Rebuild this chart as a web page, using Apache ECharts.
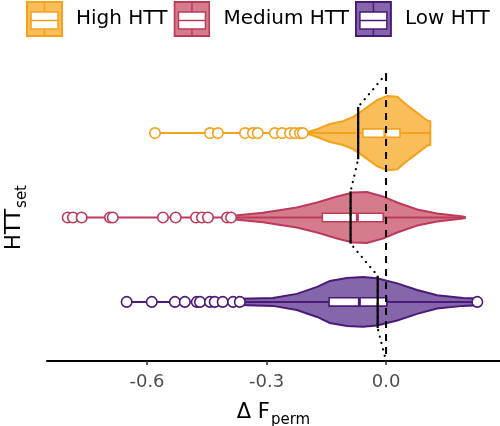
<!DOCTYPE html>
<html><head><meta charset="utf-8">
<script src="https://cdn.jsdelivr.net/npm/echarts@6/dist/echarts.min.js"></script>
<style>html,body{margin:0;padding:0;background:#fff}#c{width:500px;height:426px}</style>
</head><body><div id="c"></div>
<script>
// ---- data ----
const groups = ['High HTT', 'Medium HTT', 'Low HTT'];
const groupY = [3, 2, 1];
const fillColors = ['#F9BD59', '#D47C8C', '#8666AA'];
const lineColors = ['#F4A11C', '#BE3A5B', '#4A1A78'];
const xTicks = [-0.6, -0.3, 0.0];

const highOutliers = [-0.580, -0.442, -0.422, -0.354, -0.334, -0.322, -0.279, -0.261, -0.241, -0.229, -0.216, -0.209];
const mediumOutliers = [-0.799, -0.786, -0.764, -0.693, -0.686, -0.560, -0.528, -0.477, -0.462, -0.447, -0.399, -0.389];
const lowOutliers = [-0.651, -0.588, -0.530, -0.505, -0.475, -0.467, -0.442, -0.430, -0.410, -0.384, -0.367, 0.229];

// violin profiles: x value and half-width (in y-axis units)
const highViolinX = [-0.205, -0.191, -0.173, -0.141, -0.108, -0.083, -0.058, -0.023, 0.003, 0.028, 0.053, 0.078, 0.103, 0.111];
const highViolinW = [0.008, 0.018, 0.047, 0.107, 0.142, 0.190, 0.270, 0.390, 0.440, 0.430, 0.330, 0.240, 0.150, 0.140];
const mediumViolinX = [-0.389, -0.379, -0.309, -0.224, -0.173, -0.123, -0.083, -0.048, -0.008, 0.028, 0.078, 0.128, 0.193, 0.198];
const mediumViolinW = [0.015, 0.024, 0.056, 0.118, 0.178, 0.249, 0.296, 0.302, 0.249, 0.178, 0.095, 0.047, 0.012, 0.005];
const lowViolinX = [-0.367, -0.284, -0.224, -0.173, -0.141, -0.098, -0.058, -0.023, 0.028, 0.078, 0.128, 0.193, 0.229];
const lowViolinW = [0.036, 0.047, 0.095, 0.178, 0.249, 0.284, 0.295, 0.280, 0.220, 0.142, 0.079, 0.047, 0.041];

const boxQ1 = [-0.058, -0.160, -0.143];
const boxMedian = [-0.003, -0.072, -0.067];
const boxQ3 = [0.035, -0.007, 0.002];
const means = [-0.070, -0.089, -0.021];
const dataMin = [-0.580, -0.799, -0.651];
const dataMax = [0.111, 0.198, 0.229];

const outliers = [highOutliers, mediumOutliers, lowOutliers];
const violinX = [highViolinX, mediumViolinX, lowViolinX];
const violinW = [highViolinW, mediumViolinW, lowViolinW];

// ---- styling constants ----
const FONT = 'DejaVu Sans';
const BOX_HALF = 0.05;
const MEAN_HALF = 0.31;
const Y_MIN = 0.3, Y_MAX = 3.7;

function legendIcon(fill, stroke) {
  const svg = "<svg xmlns='http://www.w3.org/2000/svg' width='37' height='36' viewBox='0 0 37 36'>" +
    "<rect x='1' y='1' width='35' height='34' fill='" + fill + "' stroke='" + stroke + "' stroke-width='2'/>" +
    "<line x1='18.5' y1='1' x2='18.5' y2='11' stroke='" + stroke + "' stroke-width='1.5'/>" +
    "<line x1='18.5' y1='28' x2='18.5' y2='35' stroke='" + stroke + "' stroke-width='1.5'/>" +
    "<rect x='5' y='11' width='27' height='17' fill='white' stroke='" + stroke + "' stroke-width='1.5'/>" +
    "<line x1='5' y1='19.5' x2='32' y2='19.5' stroke='" + stroke + "' stroke-width='1.5'/>" +
    "</svg>";
  return 'image://data:image/svg+xml;charset=utf-8,' + encodeURIComponent(svg);
}

const series = [];

// dotted line linking mean segments
const dotted = [[0, Y_MAX]];
for (let i = 0; i < 3; i++) {
  dotted.push([means[i], groupY[i] + MEAN_HALF]);
  dotted.push([means[i], groupY[i] - MEAN_HALF]);
}
dotted.push([0, Y_MIN]);
series.push({
  type: 'line', data: dotted, symbol: 'none', silent: true,
  lineStyle: { color: '#000', width: 2.2, type: [0.1, 6.5], cap: 'round' }
});

// violins
for (let i = 0; i < 3; i++) {
  const xs = violinX[i], ws = violinW[i], yc = groupY[i];
  series.push({
    name: groups[i], type: 'custom', silent: true,
    data: xs.map((x, k) => [x, ws[k]]),
    renderItem: function (params, api) {
      if (params.dataIndex !== 0) return null;
      const pts = [];
      for (let k = 0; k < xs.length; k++) pts.push(api.coord([xs[k], yc + ws[k]]));
      for (let k = xs.length - 1; k >= 0; k--) pts.push(api.coord([xs[k], yc - ws[k]]));
      const a = api.coord([dataMin[i], yc]), b = api.coord([dataMax[i], yc]);
      return {
        type: 'group', children: [
          { type: 'polygon', shape: { points: pts },
            style: { fill: fillColors[i], stroke: lineColors[i], lineWidth: 2 } },
          { type: 'line', shape: { x1: a[0], y1: a[1], x2: b[0], y2: b[1] },
            style: { stroke: lineColors[i], lineWidth: 2 } }
        ]
      };
    }
  });
}

// boxes
for (let i = 0; i < 3; i++) {
  series.push({
    name: groups[i], type: 'custom', silent: true,
    data: [[boxQ1[i], boxMedian[i], boxQ3[i], groupY[i]]],
    renderItem: function (params, api) {
      const q1 = api.value(0), md = api.value(1), q3 = api.value(2), y = api.value(3);
      const p1 = api.coord([q1, y + BOX_HALF]);
      const p2 = api.coord([q3, y - BOX_HALF]);
      const m1 = api.coord([md, y + BOX_HALF]);
      const m2 = api.coord([md, y - BOX_HALF]);
      return {
        type: 'group', children: [
          { type: 'rect', shape: { x: p1[0], y: p1[1], width: p2[0] - p1[0], height: p2[1] - p1[1] },
            style: { fill: '#fff', stroke: lineColors[i], lineWidth: 1.6 } },
          { type: 'line', shape: { x1: m1[0], y1: m1[1], x2: m2[0], y2: m2[1] },
            style: { stroke: lineColors[i], lineWidth: 3 } }
        ]
      };
    }
  });
}

// outliers
for (let i = 0; i < 3; i++) {
  series.push({
    name: groups[i], type: 'scatter', silent: true,
    data: outliers[i].map(v => [v, groupY[i]]),
    symbol: 'circle', symbolSize: 10.5,
    itemStyle: { color: '#fff', borderColor: lineColors[i], borderWidth: 1.6, opacity: 1 }
  });
}

// mean segments
series.push({
  type: 'custom', silent: true,
  data: means.map((m, i) => [m, groupY[i]]),
  renderItem: function (params, api) {
    const x = api.value(0), y = api.value(1);
    const a = api.coord([x, y + MEAN_HALF]), b = api.coord([x, y - MEAN_HALF]);
    return { type: 'line', shape: { x1: a[0], y1: a[1], x2: b[0], y2: b[1] },
      style: { stroke: '#000', lineWidth: 2.2 } };
  }
});

// dashed zero line
series.push({
  type: 'line', data: [[0, Y_MAX], [0, Y_MIN]], symbol: 'none', silent: true,
  lineStyle: { color: '#000', width: 2, type: [7, 6] }
});

const option = {
  animation: false,
  backgroundColor: '#fff',
  legend: {
    left: 26, top: 1, padding: 0, itemWidth: 37, itemHeight: 36, itemGap: 6,
    selectedMode: false,
    data: groups.map((g, i) => ({ name: g, icon: legendIcon(fillColors[i], lineColors[i]) })),
    textStyle: { fontFamily: FONT, fontSize: 20, color: '#000', padding: [0, 0, 0, 8] }
  },
  grid: { left: 47, right: 0, top: 74, bottom: 65, containLabel: false, outerBoundsMode: 'none' },
  xAxis: {
    type: 'value', min: -0.851, max: 0.286,
    splitLine: { show: false },
    axisLine: { show: true, onZero: false, lineStyle: { color: '#000', width: 2 } },
    axisTick: { show: true, length: 4, customValues: xTicks, lineStyle: { color: '#333', width: 1.5 } },
    axisLabel: { customValues: xTicks, formatter: v => v.toFixed(1), fontFamily: FONT, fontSize: 18, color: '#4D4D4D', margin: 12 },
    name: '{a|Δ F}{b|perm}', nameLocation: 'middle', nameGap: 40,
    nameTextStyle: {
      fontFamily: FONT, color: '#000',
      rich: {
        a: { fontFamily: FONT, fontSize: 21, color: '#000', lineHeight: 24 },
        b: { fontFamily: FONT, fontSize: 15, color: '#000', lineHeight: 16, padding: [14, 0, 0, 1] }
      }
    }
  },
  yAxis: {
    type: 'value', min: Y_MIN, max: Y_MAX,
    splitLine: { show: false }, axisLine: { show: false }, axisTick: { show: false }, axisLabel: { show: false },
    name: '{a|HTT}{b|set}', nameLocation: 'middle', nameRotate: 90, nameGap: 20,
    nameTextStyle: {
      fontFamily: FONT, color: '#000',
      rich: {
        a: { fontFamily: FONT, fontSize: 21, color: '#000', lineHeight: 24 },
        b: { fontFamily: FONT, fontSize: 15, color: '#000', lineHeight: 16, padding: [14, 0, 0, 1] }
      }
    }
  },
  series: series
};
const chart = echarts.init(document.getElementById('c'), null, { renderer: 'canvas' });
chart.setOption(option);
</script>
</body></html>
